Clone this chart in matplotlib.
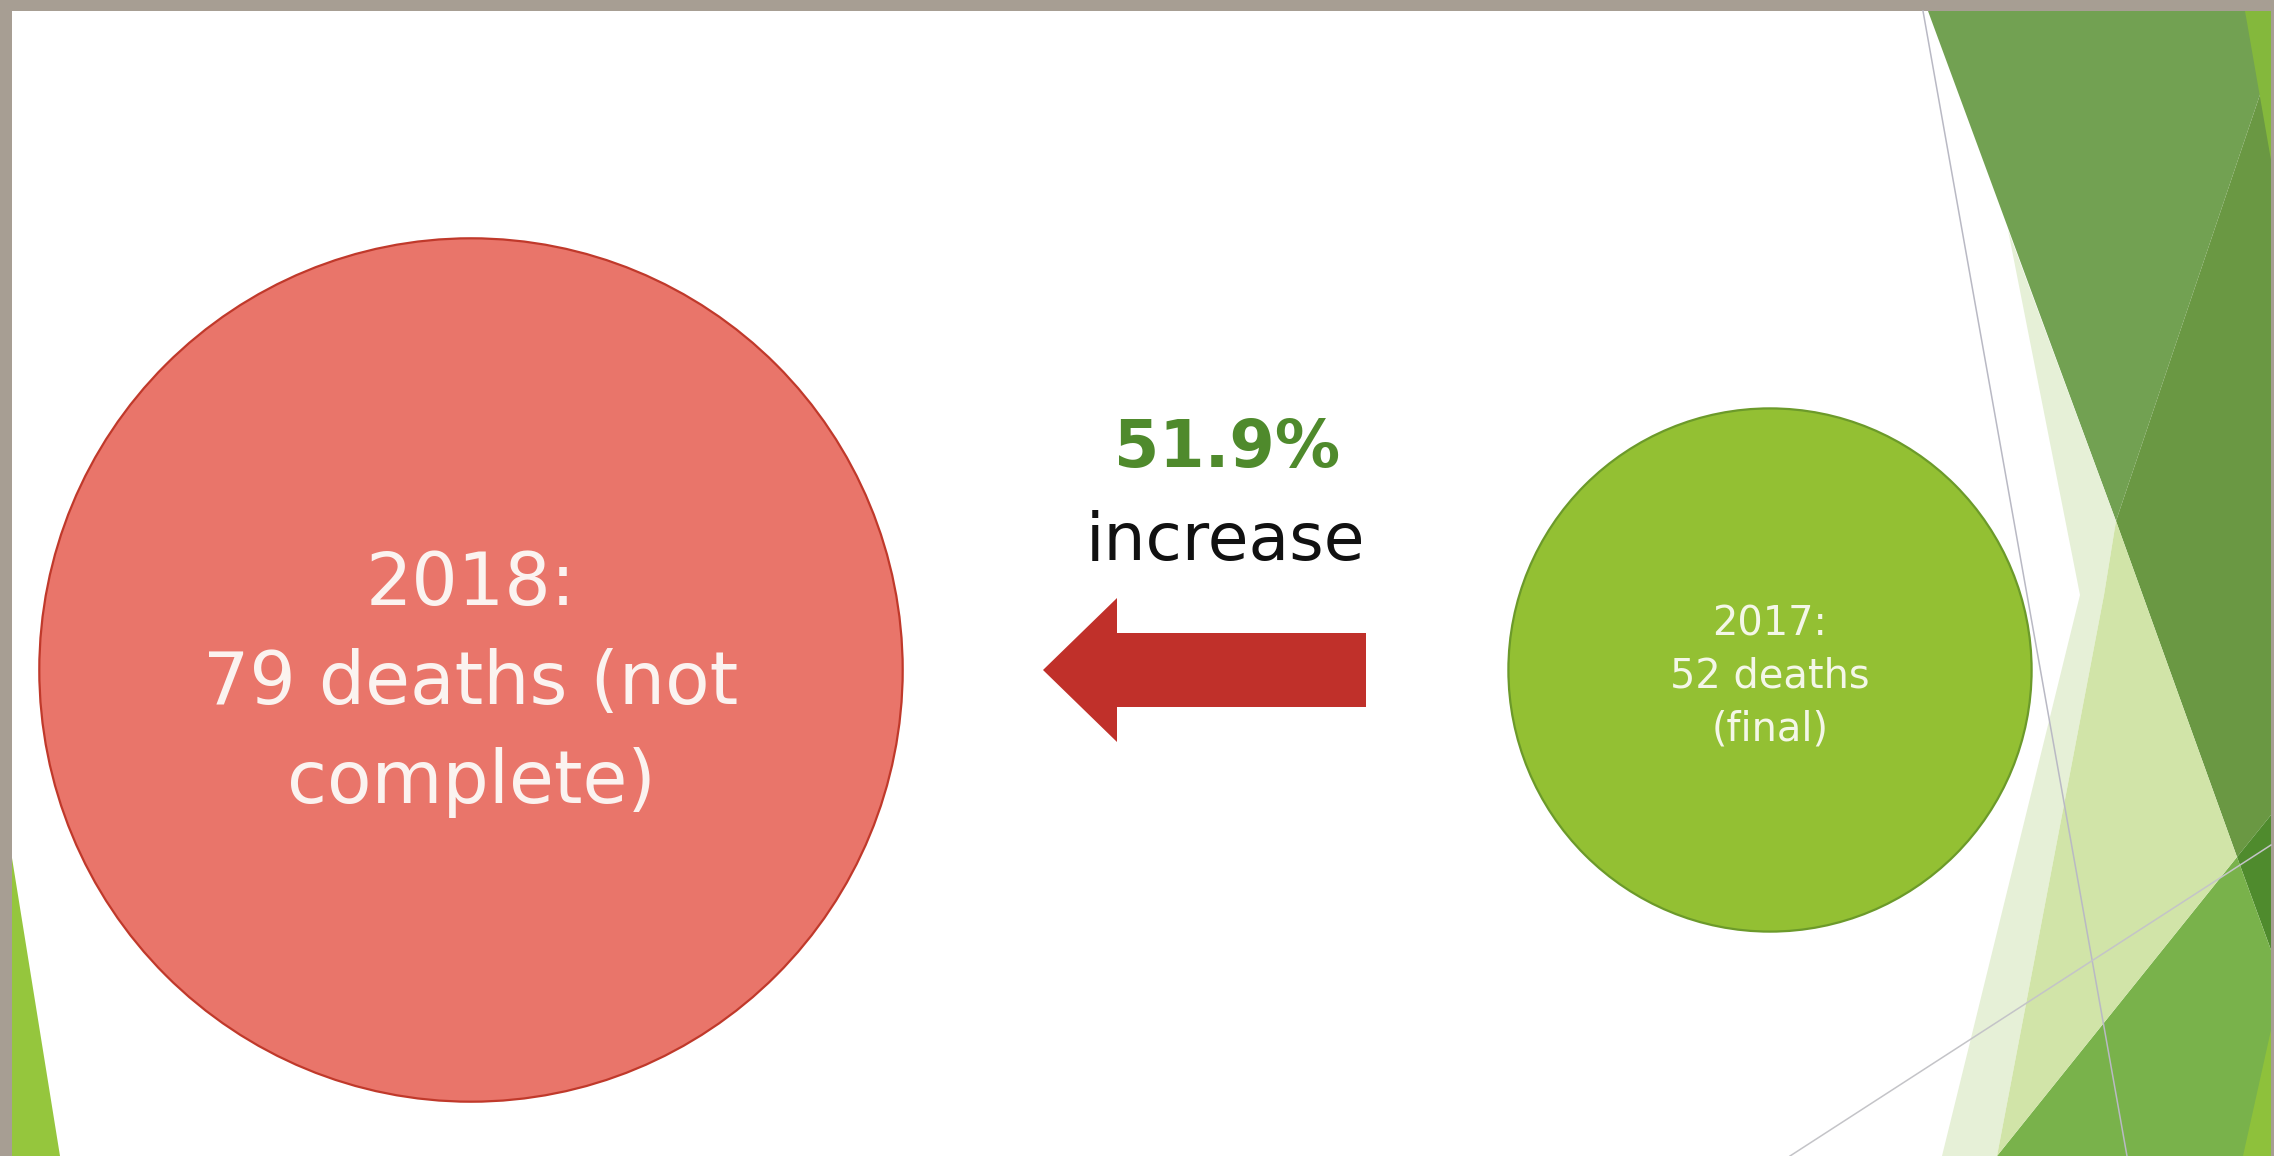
import numpy as np
import matplotlib.pyplot as plt
from matplotlib.patches import Circle, Rectangle, Polygon, FancyArrow

# values shown on the slide
years = [2018, 2017]
deaths = [79, 52]
status = ["(not complete)", "(final)"]

pct = (deaths[0] - deaths[1]) / deaths[1] * 100  # 51.9 %

W, H = 2274, 1156
fig = plt.figure(figsize=(W / 100, H / 100), dpi=100, facecolor="#a79e93")
ax = fig.add_axes([0, 0, 1, 1])
ax.set_xlim(0, W)
ax.set_ylim(H, 0)
ax.axis("off")

# slide area
ax.add_patch(Rectangle((12, 11), 2259, H, facecolor="white", edgecolor="none", zorder=0))

# theme decoration on the right and bottom-left
deco = [
    ("#72a152", [(1928, 11), (2271, 11), (2271, 62), (2116, 521)]),
    ("#6a9843", [(2271, 62), (2271, 815), (2237, 857), (2116, 521)]),
    ("#4f8b2d", [(2271, 815), (2237, 857), (2271, 950)]),
    ("#79b24b", [(1997, 1156), (2237, 857), (2271, 950), (2271, 1156)]),
    ("#8ec13b", [(2243, 1156), (2271, 1156), (2271, 1030)]),
    ("#e6f0d7", [(2008, 230), (2116, 521), (2104, 595), (1997, 1156),
                 (1942, 1156), (2080, 595)]),
    ("#d1e4a8", [(2116, 521), (2237, 857), (1997, 1156), (2104, 595)]),
    ("#84b83c", [(2245, 11), (2271, 11), (2271, 160)]),
    ("#95c63d", [(12, 858), (12, 1156), (60, 1156)]),
]
for col, pts in deco:
    ax.add_patch(Polygon(pts, closed=True, facecolor=col, edgecolor="none", zorder=1))

ax.plot([1923, 2127], [11, 1156], color="#b9b9c4", lw=1.1, zorder=2)
ax.plot([1790, 2271], [1156, 845], color="#c4c4c8", lw=1.1, zorder=2)


def radius(d):
    # circle size scale, pixels per death
    return 6.3 * d - 66


# 2018 circle
cx, cy = 471, 670
ax.add_patch(Circle((cx, cy), radius(deaths[0]), facecolor="#e9756a",
                    edgecolor="#c0392b", lw=1.6, zorder=3))
lines = [f"{years[0]}:", f"{deaths[0]} deaths " + status[0].split()[0],
         status[0].split()[1]]
for i, s in enumerate(lines):
    ax.text(cx, 704 + (i - 1) * 99, s, ha="center", va="baseline",
            fontsize=52.5, color="#fbf3f0", zorder=4)

# 2017 circle
gx, gy = 1770, 670
ax.add_patch(Circle((gx, gy), radius(deaths[1]), facecolor="#93c033",
                    edgecolor="#6c9a2a", lw=1.6, zorder=3))
lines = [f"{years[1]}:", f"{deaths[1]} deaths", status[1]]
for i, s in enumerate(lines):
    ax.text(gx, 688 + (i - 1) * 52, s, ha="center", va="baseline",
            fontsize=28.7, color="#f4f7e8", zorder=4)

# change label and arrow
ax.text(1227, 467, f"{pct:.1f}%", ha="center", va="baseline", fontsize=47,
        fontweight="bold", color="#4f8a2c", zorder=4)
ax.text(1226, 560, "increase", ha="center", va="baseline", fontsize=47.8,
        color="#111111", zorder=4)
ax.add_patch(FancyArrow(1366, 670, -323, 0, width=74, head_width=144,
                        head_length=74, length_includes_head=True,
                        facecolor="#c0302a", edgecolor="none", zorder=3))

fig.savefig("out.png", dpi=100, facecolor=fig.get_facecolor())
